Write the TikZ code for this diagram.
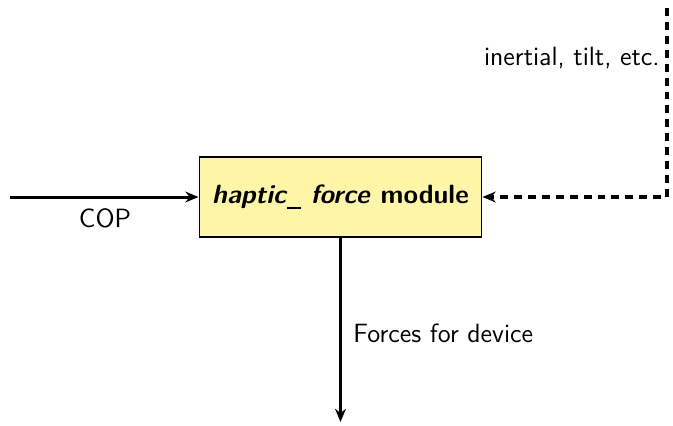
\documentclass[tikz,border=0pt]{standalone}
\usetikzlibrary{arrows.meta}
\renewcommand{\familydefault}{\sfdefault}
\definecolor{modfill}{HTML}{FFF5A8}
\newcommand{\lowbar}{\kern0.5pt\rule[-2.6pt]{5.8pt}{0.9pt}}
\begin{document}
\begin{tikzpicture}[x=0.4167pt,y=-0.4167pt,
  flow/.style={line width=1.25pt,-{Stealth[length=5.5pt,width=4.5pt]}},
  feedback/.style={line width=1.35pt,dash pattern=on 3.3pt off 2.5pt,-{Stealth[length=5.5pt,width=4.5pt]}},
  module/.style={draw,line width=0.8pt,fill=modfill,inner sep=0pt},
  lbl/.style={font=\fontsize{11}{13}\selectfont}]
\useasboundingbox (0,0) rectangle (673,425);
\node[module,minimum width=117.5pt,minimum height=33pt,font=\bfseries\fontsize{11}{13}\selectfont] (mod) at (340.5,197) {\textit{haptic\lowbar\ force} module};
\coordinate (in) at (10,197);
\coordinate (top) at (667,8);
\coordinate (corner) at (667,197);
\coordinate (out) at (mod.south |- 0,422);
\draw[flow] (in) -- (mod.west);
\node[lbl,anchor=north] (cop) at (105,200) {COP};
\draw[feedback] (top) -- (corner) -- (mod.east);
\node[lbl,anchor=east] (inert) at (668,58) {inertial, tilt, etc.};
\draw[flow] (mod.south) -- (out);
\node[lbl,anchor=west] (forces) at (345,333) {Forces for device};
\end{tikzpicture}
\end{document}
